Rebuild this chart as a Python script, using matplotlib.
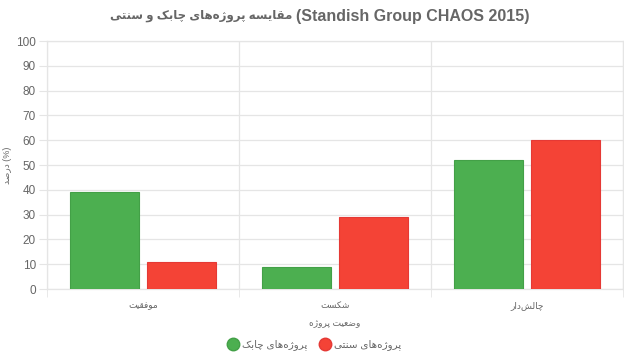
import numpy as np
import matplotlib.pyplot as plt
from matplotlib.lines import Line2D

# Data
categories = ["موفقیت", "شکست", "چالش‌دار"]
agile = [39, 9, 52]
traditional = [11, 29, 60]
series_names = ["پروژه‌های چابک", "پروژه‌های سنتی"]
title_fa = "مقایسه پروژه‌های چابک و سنتی"
title_en = "(Standish Group CHAOS 2015)"
xlabel_fa = "وضعیت پروژه"
ylabel_fa = "درصد"

GREEN = "#4CAF50"
RED = "#F44336"
GRID = "#e5e5e5"
TEXT = "#666666"

# Minimal Persian shaping (matplotlib has no text shaping / bidi)
FORMS = {
    'ا': ('\uFE8D', '\uFE8E', None, None),
    'ب': ('\uFE8F', '\uFE90', '\uFE91', '\uFE92'),
    'پ': ('\uFB56', '\uFB57', '\uFB58', '\uFB59'),
    'ت': ('\uFE95', '\uFE96', '\uFE97', '\uFE98'),
    'چ': ('\uFB7A', '\uFB7B', '\uFB7C', '\uFB7D'),
    'د': ('\uFEA9', '\uFEAA', None, None),
    'ر': ('\uFEAD', '\uFEAE', None, None),
    'ژ': ('\uFB8A', '\uFB8B', None, None),
    'س': ('\uFEB1', '\uFEB2', '\uFEB3', '\uFEB4'),
    'ش': ('\uFEB5', '\uFEB6', '\uFEB7', '\uFEB8'),
    'ص': ('\uFEB9', '\uFEBA', '\uFEBB', '\uFEBC'),
    'ض': ('\uFEBD', '\uFEBE', '\uFEBF', '\uFEC0'),
    'ع': ('\uFEC9', '\uFECA', '\uFECB', '\uFECC'),
    'ف': ('\uFED1', '\uFED2', '\uFED3', '\uFED4'),
    'ق': ('\uFED5', '\uFED6', '\uFED7', '\uFED8'),
    'ک': ('\uFB8E', '\uFB8F', '\uFB90', '\uFB91'),
    'ل': ('\uFEDD', '\uFEDE', '\uFEDF', '\uFEE0'),
    'م': ('\uFEE1', '\uFEE2', '\uFEE3', '\uFEE4'),
    'ن': ('\uFEE5', '\uFEE6', '\uFEE7', '\uFEE8'),
    'ه': ('\uFEE9', '\uFEEA', '\uFEEB', '\uFEEC'),
    'و': ('\uFEED', '\uFEEE', None, None),
    'ی': ('\uFBFC', '\uFBFD', '\uFBFE', '\uFBFF'),
}


def dual(c):
    return c in FORMS and FORMS[c][2] is not None


def fa(s):
    out = []
    for i, c in enumerate(s):
        if c not in FORMS:
            out.append(c)
            continue
        prev = s[i - 1] if i > 0 else ''
        nxt = s[i + 1] if i + 1 < len(s) else ''
        jp = dual(prev)
        jn = dual(c) and nxt in FORMS
        iso, fin, ini, med = FORMS[c]
        if jp and jn:
            out.append(med)
        elif jp:
            out.append(fin)
        elif jn:
            out.append(ini)
        else:
            out.append(iso)
    return ''.join(out).replace('\u200c', '')[::-1]


FONT = ['Liberation Sans', 'DejaVu Sans']
plt.rcParams['font.family'] = FONT

fig = plt.figure(figsize=(6.24, 3.6), dpi=100)
ax = fig.add_axes([47 / 624, 1 - 289 / 360, 576 / 624, 248 / 360])

x = np.arange(len(categories))
w = 0.36
ax.bar(x - 0.2, agile, w, color=GREEN, edgecolor="#43A047", linewidth=0.8, zorder=3)
ax.bar(x + 0.2, traditional, w, color=RED, edgecolor="#E53935", linewidth=0.8, zorder=3)

ax.set_xlim(-0.5, 2.5)
ax.set_ylim(0, 100)
ax.set_yticks(range(0, 101, 10))
ax.set_xticks(x)
ax.set_xticklabels([fa(c) for c in categories], fontsize=6.5, color=TEXT)
ax.set_xticks([-0.5, 0.5, 1.5, 2.5], minor=True)
ax.tick_params(axis='y', labelsize=8.5, labelcolor=TEXT, color=GRID, length=6, pad=2)
ax.tick_params(axis='x', which='major', length=0, pad=9)
ax.tick_params(axis='x', which='minor', color=GRID, length=6)
ax.grid(axis='y', color=GRID, linewidth=0.9, zorder=0)
ax.grid(axis='x', which='minor', color=GRID, linewidth=0.9, zorder=0)
for sp in ax.spines.values():
    sp.set_color(GRID)
    sp.set_linewidth(0.9)

ax.set_xlabel(fa(xlabel_fa), fontsize=6.5, color=TEXT, labelpad=6)
ax.set_ylabel(fa(ylabel_fa) + " (%)", fontsize=6.5, color=TEXT)
ax.yaxis.set_label_coords(-35 / 576, 0.5)

# title: Persian run on the left, Latin run on the right
fig.text(292 / 624, 1 - 16 / 360, fa(title_fa), ha='right', va='center',
         fontsize=8.5, fontweight='bold', color=TEXT)
fig.text(296 / 624, 1 - 16 / 360, title_en, ha='left', va='center',
         fontsize=11.5, fontweight='bold', color=TEXT)

handles = [Line2D([], [], marker='o', linestyle='', markersize=9,
                  markerfacecolor=GREEN, markeredgecolor="#43A047"),
           Line2D([], [], marker='o', linestyle='', markersize=9,
                  markerfacecolor=RED, markeredgecolor="#E53935")]
leg = fig.legend(handles, [fa(s) for s in series_names], loc='center',
                 bbox_to_anchor=(314 / 624, 1 - 345 / 360), ncol=2, frameon=False,
                 fontsize=7.5, handletextpad=0.3, columnspacing=1.0, handlelength=1.2)
for t in leg.get_texts():
    t.set_color(TEXT)

fig.savefig("out.png", dpi=100)
